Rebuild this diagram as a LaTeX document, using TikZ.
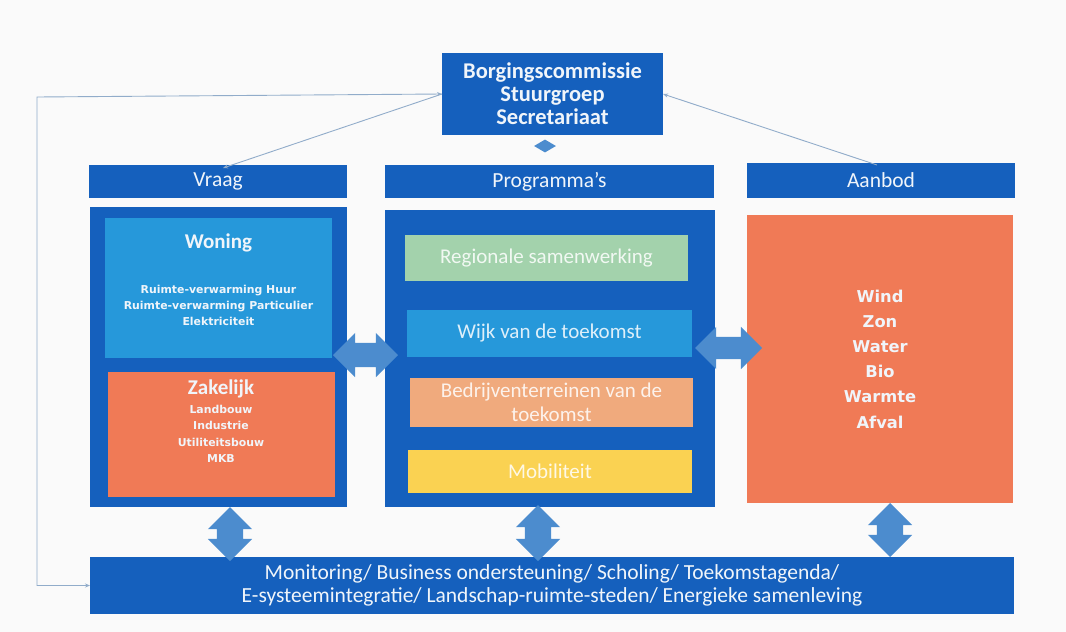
\documentclass[tikz,border=0pt]{standalone}
\usepackage{fontspec}
\setmainfont{Carlito}
\newfontfamily\dvs{DejaVu Sans}
\usetikzlibrary{shapes.arrows,shapes.geometric,arrows.meta}
\definecolor{bg}{RGB}{250,250,250}
\definecolor{dblue}{RGB}{21,96,189}
\definecolor{lblue}{RGB}{38,152,218}
\definecolor{corange}{RGB}{240,122,86}
\definecolor{cgreen}{RGB}{163,210,172}
\definecolor{cpeach}{RGB}{240,170,125}
\definecolor{cyellow}{RGB}{250,210,82}
\definecolor{ablue}{RGB}{76,140,206}
\definecolor{lineblue}{RGB}{145,172,202}
\definecolor{txt}{RGB}{240,245,250}
\begin{document}
\begin{tikzpicture}[x=1pt,y=-1pt,
  box/.style={draw=none,inner sep=0pt,outer sep=0pt,text=txt},
  hdr/.style={box,fill=dblue,font=\fontsize{21.5}{23}\selectfont},
  prog/.style={box,text=white,text opacity=0.85,font=\fontsize{21}{24}\selectfont,align=center},
  smalltxt/.style={inner sep=0pt,text=txt,align=center,font=\dvs\bfseries\fontsize{10.9}{16.3}\selectfont},
  bigbold/.style={inner sep=0pt,text=txt,font=\bfseries\fontsize{21}{23}\selectfont},
  darrow/.style={double arrow,fill=ablue,draw=none,inner sep=12pt,outer sep=0pt,double arrow head extend=10pt},
  conn/.style={draw=lineblue,line width=0.9pt,{Stealth[length=5pt,width=4pt]}-{Stealth[length=5pt,width=4pt]}},
  conn1/.style={draw=lineblue,line width=0.9pt,-{Stealth[length=5pt,width=4pt]}}]
\fill[bg] (0,0) rectangle (1066,632);
\useasboundingbox (0,0) rectangle (1066,632);
% top box
\node[box,fill=dblue,minimum width=221pt,minimum height=82pt,align=center,font=\bfseries\fontsize{22.5}{23}\selectfont] (borg) at (552.5,94)
  {Borgingscommissie\\Stuurgroep\\Secretariaat};
\node[diamond,fill=ablue,draw=none,inner sep=0pt,minimum width=22pt,minimum height=13pt] (dia) at (545,146) {};
% headers
\node[hdr,minimum width=258pt,minimum height=33pt] (vraagh) at (218,181.5) {Vraag};
\node[hdr,minimum width=329pt,minimum height=33pt] (progh) at (549.5,181.5) {Programma’s};
\node[hdr,minimum width=268pt,minimum height=35pt] (aanbodh) at (881,180.5) {Aanbod};
% panels
\node[box,fill=dblue,minimum width=257pt,minimum height=300pt] (vraagp) at (218.5,357) {};
\node[box,fill=dblue,minimum width=330pt,minimum height=297pt] (progp) at (550,358.5) {};
\node[box,fill=corange,minimum width=266pt,minimum height=288pt] (aanbodp) at (880,359) {};
% vraag inner
\node[box,fill=lblue,minimum width=227pt,minimum height=140pt] (woning) at (218.5,288) {};
\node[box,fill=corange,minimum width=227pt,minimum height=125pt] (zakelijk) at (221.5,434.5) {};
\node[bigbold] (woningt) at (218.5,243) {Woning};
\node[smalltxt] (woningl) at (218.5,305.5) {Ruimte-verwarming Huur\\Ruimte-verwarming Particulier\\Elektriciteit};
\node[bigbold] (zakt) at (221,389) {Zakelijk};
\node[smalltxt] (zakl) at (221,434) {Landbouw\\Industrie\\Utiliteitsbouw\\MKB};
% programma inner
\node[prog,fill=cgreen,minimum width=283pt,minimum height=46pt] (reg) at (546.5,258) {Regionale samenwerking};
\node[prog,fill=lblue,minimum width=285pt,minimum height=47pt] (wijk) at (549.5,333.5) {Wijk van de toekomst};
\node[prog,fill=cpeach,minimum width=283pt,minimum height=49pt] (bedr) at (551.5,402.5) {Bedrijventerreinen van de\\toekomst};
\node[prog,fill=cyellow,minimum width=284pt,minimum height=43pt] (mob) at (550,471.5) {Mobiliteit};
% aanbod text
\node[inner sep=0pt,text=txt,align=center,font=\dvs\bfseries\fontsize{16.3}{25.2}\selectfont] (aanbodt) at (880,359)
  {Wind\\Zon\\Water\\Bio\\Warmte\\Afval};
% bottom bar
\node[box,fill=dblue,minimum width=924pt,minimum height=57pt,align=center,font=\fontsize{21.5}{23}\selectfont] (bottom) at (552,585.5)
  {Monitoring/ Business ondersteuning/ Scholing/ Toekomstagenda/\\E-systeemintegratie/ Landschap-ruimte-steden/ Energieke samenleving};
% double arrows
\node[darrow,minimum height=65pt] (h1) at (365.5,355) {};
\node[darrow,minimum height=67pt,inner sep=11pt] (h2) at (728.5,348) {};
\node[darrow,shape border rotate=90,minimum height=54pt,inner sep=13pt,double arrow head extend=9pt] (v1) at (230,534) {};
\node[darrow,shape border rotate=90,minimum height=56pt,inner sep=13pt,double arrow head extend=9pt] (v2) at (538,533) {};
\node[darrow,shape border rotate=90,minimum height=54pt,inner sep=13pt,double arrow head extend=9pt] (v3) at (890,530) {};
% connectors
\coordinate (ctop) at (37,97);
\coordinate (cbot) at (37,585.5);
\draw[conn] (bottom.west) -- (cbot) -- (ctop) -- (borg.west);
\draw[conn1] (borg.west) -- ([xshift=5pt,yshift=-3pt]vraagh.north);
\draw[conn1] ([xshift=-4pt,yshift=-2pt]aanbodh.north) -- (borg.east);
\end{tikzpicture}
\end{document}
